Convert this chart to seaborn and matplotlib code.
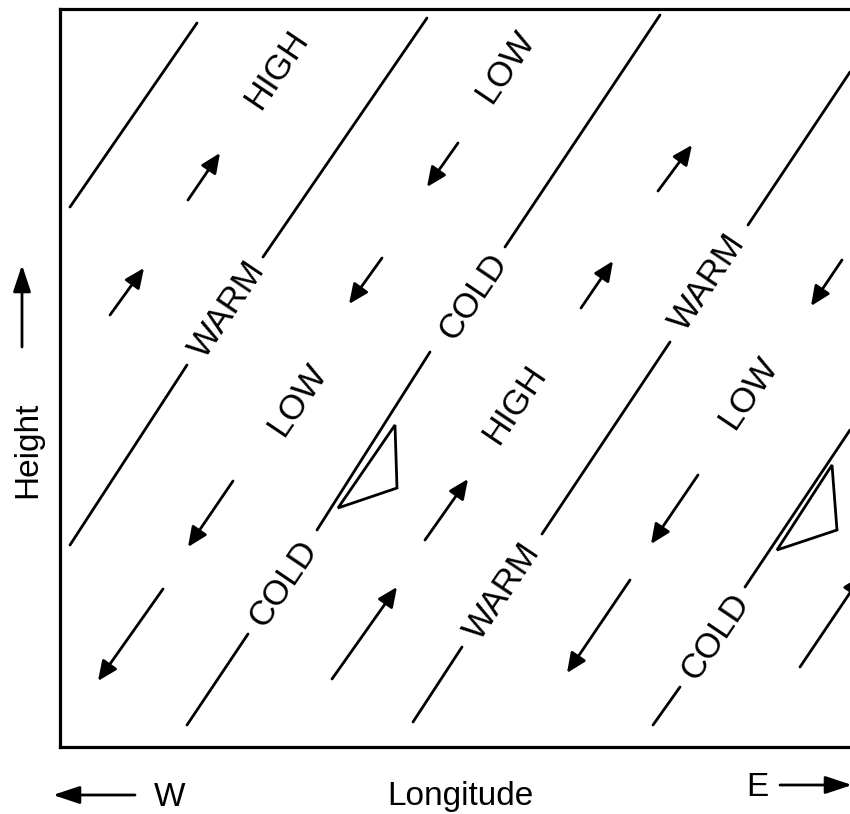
import numpy as np
import pandas as pd
import seaborn as sns
import matplotlib.pyplot as plt
from matplotlib.patches import Polygon

# front / axis line segments (x0, y0) -> (x1, y1), image-like coords (y down)
seg_x0 = [70, 263, 187, 505, 430, 248, 748, 670, 462, 850, 680]
seg_y0 = [207, 257, 365, 247, 352, 634, 225, 342, 647, 430, 687]
seg_x1 = [197, 427, 70, 660, 317, 187, 850, 542, 413, 745, 653]
seg_y1 = [23, 18, 545, 15, 530, 725, 72, 534, 722, 587, 725]

# vertical motion arrows: tail -> head
arr_x0 = [188, 110, 658, 581, 332, 425, 800, 382, 458, 842, 233, 163, 698, 630]
arr_y0 = [200, 315, 191, 308, 679, 540, 667, 258, 143, 260, 481, 589, 475, 580]
arr_x1 = [220, 144, 692, 613, 397, 468, 862, 349, 427, 811, 188, 98, 651, 567]
arr_y1 = [153, 268, 145, 261, 587, 479, 575, 304, 187, 306, 547, 681, 544, 673]

# small triangles on the cold lines
tri1_x = [395, 397, 338]
tri1_y = [425, 488, 508]
tri2_x = [832, 837, 777]
tri2_y = [465, 530, 550]

# labels
lab_text = ["HIGH", "LOW", "WARM", "LOW", "COLD", "HIGH", "WARM", "LOW",
            "COLD", "WARM", "COLD"]
lab_x = [277, 505, 227, 297, 473, 515, 707, 748, 283, 502, 715]
lab_y = [70, 67, 310, 400, 297, 405, 283, 393, 584, 592, 637]

sns.set_theme(style="white")
plt.rcParams["font.family"] = ["Liberation Sans", "DejaVu Sans"]
plt.rcParams["text.color"] = "black"

fig = plt.figure(figsize=(8.5, 8.14), dpi=100)
ax = fig.add_axes([60 / 850, (814 - 747) / 814, 800 / 850, 738 / 814])

seg_df = pd.DataFrame({
    "x": seg_x0 + seg_x1,
    "y": seg_y0 + seg_y1,
    "seg": list(range(len(seg_x0))) * 2,
})
sns.lineplot(data=seg_df, x="x", y="y", units="seg", estimator=None,
             sort=False, color="black", lw=2.0, ax=ax, legend=False)

for x0, y0, x1, y1 in zip(arr_x0, arr_y0, arr_x1, arr_y1):
    ax.annotate("", xy=(x1, y1), xytext=(x0, y0), annotation_clip=False,
                arrowprops=dict(arrowstyle="-|>,head_length=0.85,head_width=0.38",
                                mutation_scale=14, lw=2.0, color="black",
                                shrinkA=0, shrinkB=0))

for tx, ty in [(tri1_x, tri1_y), (tri2_x, tri2_y)]:
    ax.add_patch(Polygon(np.column_stack([tx, ty]), closed=True,
                         fill=False, ec="black", lw=2.0))

for t, x, y in zip(lab_text, lab_x, lab_y):
    ax.text(x, y, t, rotation=56, ha="center", va="center",
            rotation_mode="anchor", fontsize=25, color="black")

ax.set_xlim(60, 860)
ax.set_ylim(747, 9)
ax.set_xticks([])
ax.set_yticks([])
ax.set_xlabel("")
ax.set_ylabel("")
for side in ["left", "top", "bottom"]:
    ax.spines[side].set_color("black")
    ax.spines[side].set_linewidth(2.3)
ax.spines["right"].set_visible(False)

# outer labels
big_arrow = dict(arrowstyle="-|>,head_length=0.9,head_width=0.3",
                 mutation_scale=18, lw=2.0, color="black", shrinkA=0, shrinkB=0)
ax.text(460, 797, "Longitude", ha="center", va="center", fontsize=24)
ax.text(170, 797, "W", ha="center", va="center", fontsize=24)
ax.annotate("", xy=(53, 795), xytext=(135, 795), annotation_clip=False,
            arrowprops=big_arrow)
ax.text(757, 787, "E", ha="center", va="center", fontsize=24)
ax.annotate("", xy=(852, 785), xytext=(780, 785), annotation_clip=False,
            arrowprops=big_arrow)
ax.text(28, 450, "Height", rotation=90, ha="center", va="center", fontsize=24)
ax.annotate("", xy=(22, 265), xytext=(22, 347), annotation_clip=False,
            arrowprops=big_arrow)

fig.savefig("out.png", dpi=100)
